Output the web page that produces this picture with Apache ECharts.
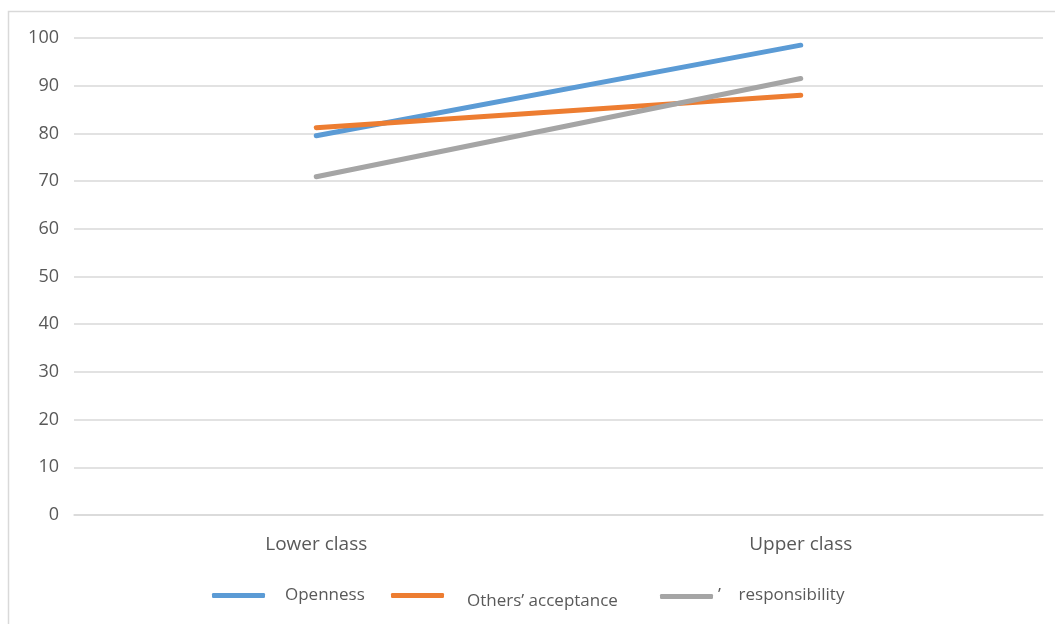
<!DOCTYPE html>
<html>
<head>
<meta charset="utf-8">
<script src="https://cdn.jsdelivr.net/npm/echarts@6/dist/echarts.min.js"></script>
<style>
  html, body { margin: 0; padding: 0; background: #fff; }
  #chart { width: 1055px; height: 624px; }
</style>
</head>
<body>
<div id="chart"></div>
<script>
// Categories and series values
const categories = ['Lower class', 'Upper class'];
const openness = [79.5, 98.5];
const othersAcceptance = [81.2, 88.0];
const responsibility = [70.9, 91.5];
const yTicks = { min: 0, max: 100, interval: 10 };

const seriesNames = ['Openness', 'Others\u2019 acceptance', '\u02bc    responsibility'];
const colors = ['#5B9BD5', '#ED7D31', '#A5A5A5'];

const chart = echarts.init(document.getElementById('chart'), null, { renderer: 'canvas' });

const textColor = '#595959';
const fontFamily = '"Open Sans", "Noto Sans", sans-serif';

function lineSeries(name, data, color) {
  return {
    name: name,
    type: 'line',
    data: data,
    showSymbol: false,
    symbol: 'none',
    lineStyle: { width: 5, color: color, cap: 'round' },
    itemStyle: { color: color },
    emphasis: { disabled: true },
    animation: false
  };
}

// one legend per series so each entry can sit on its own spot
function legendFor(name, left, top, gap, dy) {
  return {
    data: [name],
    left: left,
    top: top,
    padding: 0,
    icon: 'roundRect',
    itemWidth: 53,
    itemHeight: 5,
    formatter: '{t|{name}}',
    textStyle: {
      color: textColor,
      fontSize: 17,
      fontFamily: fontFamily,
      rich: {
        t: {
          color: textColor,
          fontSize: 17,
          fontFamily: fontFamily,
          padding: [dy > 0 ? dy * 2 : 0, 0, dy < 0 ? -dy * 2 : 0, gap]
        }
      }
    },
    selectedMode: false
  };
}

chart.setOption({
  backgroundColor: '#ffffff',
  animation: false,
  graphic: [{
    type: 'rect',
    shape: { x: 8.5, y: 11.5, width: 1060, height: 630 },
    style: { fill: 'none', stroke: '#D9D9D9', lineWidth: 1.5 },
    silent: true,
    z: -1
  }],
  grid: { left: 74, top: 38, width: 969, height: 477, containLabel: false },
  legend: [
    legendFor(seriesNames[0], 212, 587, 15, 0),
    legendFor(seriesNames[1], 391, 593, 18, 6),
    legendFor(seriesNames[2], 660, 587, 0, -1)
  ],
  xAxis: {
    type: 'category',
    data: categories,
    boundaryGap: true,
    axisLine: { show: true, lineStyle: { color: '#D9D9D9', width: 1.5 } },
    axisTick: { show: false },
    axisLabel: { color: textColor, fontSize: 19, fontFamily: fontFamily, margin: 20 },
    splitLine: { show: false }
  },
  yAxis: {
    type: 'value',
    min: yTicks.min,
    max: yTicks.max,
    interval: yTicks.interval,
    axisLine: { show: false },
    axisTick: { show: false },
    axisLabel: { color: textColor, fontSize: 18, fontFamily: fontFamily, margin: 15 },
    splitLine: { show: true, lineStyle: { color: '#D9D9D9', width: 1.5 } }
  },
  series: [
    lineSeries(seriesNames[0], openness, colors[0]),
    lineSeries(seriesNames[1], othersAcceptance, colors[1]),
    lineSeries(seriesNames[2], responsibility, colors[2])
  ]
});
</script>
</body>
</html>
